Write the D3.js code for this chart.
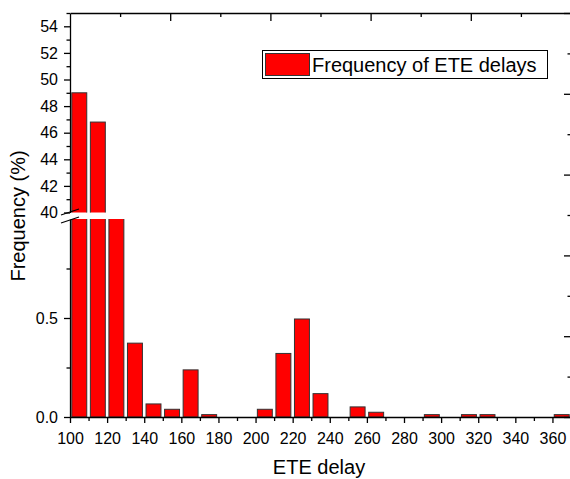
<!DOCTYPE html>
<html>
<head>
<meta charset="utf-8">
<script src="https://cdn.jsdelivr.net/npm/d3@7"></script>
<style>
  body { margin: 0; background: #fff; }
  text { font-family: "Liberation Sans", Arial, sans-serif; }
</style>
</head>
<body>
<div id="chart"></div>
<script>
// histogram bins (left edge, width 10) and frequency (%)
let binStart = [100, 110, 120, 130, 140, 150, 160, 170, 180, 190, 200, 210, 220, 230,
                240, 250, 260, 270, 280, 290, 300, 310, 320, 330, 340, 350, 360];
let freq = [49.0, 46.8, 2.4, 0.373, 0.066, 0.039, 0.238, 0.012, 0, 0, 0.039, 0.321, 0.495, 0.118,
            0, 0.051, 0.024, 0, 0, 0.012, 0, 0.012, 0.012, 0, 0, 0, 0.012];
let binWidth = 10;

// tick labels
let xTicks = [100, 120, 140, 160, 180, 200, 220, 240, 260, 280, 300, 320, 340, 360];
let upperTicks = [40, 42, 44, 46, 48, 50, 52, 54];
let lowerTicks = [0, 0.5];

let width = 570, height = 479;
let plotLeft = 70, plotRight = 571, plotTop = 13, plotBottom = 417;
let breakTop = 212.5, breakBottom = 219;

let svg = d3.select("#chart").append("svg")
    .attr("width", width)
    .attr("height", height);

// scales
let x = d3.scaleLinear().domain([100, 370]).range([plotLeft, plotRight]);
let yU = d3.scaleLinear().domain([40, 55]).range([breakTop, plotTop]);
let yL = d3.scaleLinear().domain([0, 1]).range([plotBottom, breakBottom]);
let frame = d3.scaleLinear().domain([0, 10]); // top/right frame ticks

let data = binStart.map((b, i) => ({ b: b, v: freq[i] })).filter(d => d.v > 0);

let defs = svg.append("defs");
defs.append("clipPath").attr("id", "clipL").append("rect")
    .attr("x", plotLeft).attr("y", breakBottom)
    .attr("width", plotRight - plotLeft).attr("height", plotBottom - breakBottom + 1);
defs.append("clipPath").attr("id", "clipU").append("rect")
    .attr("x", plotLeft).attr("y", plotTop)
    .attr("width", plotRight - plotLeft).attr("height", breakTop - plotTop);

let bw = x(100 + binWidth) - x(100);

// lower segment bars
svg.append("g").attr("clip-path", "url(#clipL)")
  .selectAll("rect").data(data).enter().append("rect")
    .attr("x", d => x(d.b) + 1.8)
    .attr("width", bw - 3.6)
    .attr("y", d => yL(Math.min(d.v, 1.05)))
    .attr("height", d => yL(0) - yL(Math.min(d.v, 1.05)))
    .attr("fill", "#ff0000")
    .attr("stroke", "#333")
    .attr("stroke-width", 1);

// upper segment bars
svg.append("g").attr("clip-path", "url(#clipU)")
  .selectAll("rect").data(data.filter(d => d.v > 40)).enter().append("rect")
    .attr("x", d => x(d.b) + 1.8)
    .attr("width", bw - 3.6)
    .attr("y", d => yU(d.v))
    .attr("height", d => yU(39) - yU(d.v))
    .attr("fill", "#ff0000")
    .attr("stroke", "#333")
    .attr("stroke-width", 1);

function styleAxis(g) {
    g.selectAll("path, line").attr("stroke", "#000").attr("stroke-width", 1.3);
    g.selectAll("text").attr("font-size", 16).attr("fill", "#000")
        .style("font-family", '"Liberation Sans", Arial, sans-serif');
}

// bottom axis
svg.append("g").attr("transform", "translate(0," + plotBottom + ")")
    .call(d3.axisBottom(x).tickValues(xTicks).tickSize(6).tickSizeOuter(0).tickPadding(10))
    .call(styleAxis);
svg.append("g").attr("transform", "translate(0," + plotBottom + ")")
    .call(d3.axisBottom(x).tickValues(xTicks.map(t => t + 10)).tickSize(4).tickFormat(""))
    .call(g => g.select(".domain").remove())
    .call(styleAxis);

// left axis, upper part
svg.append("g").attr("transform", "translate(" + plotLeft + ",0)")
    .call(d3.axisLeft(yU).tickValues(upperTicks).tickSize(6).tickSizeOuter(0).tickPadding(6))
    .call(styleAxis);
svg.append("g").attr("transform", "translate(" + plotLeft + ",0)")
    .call(d3.axisLeft(yU).tickValues(upperTicks.map(t => t + 1)).tickSize(3.5).tickFormat(""))
    .call(g => g.select(".domain").remove())
    .call(styleAxis);

// left axis, lower part
svg.append("g").attr("transform", "translate(" + plotLeft + ",0)")
    .call(d3.axisLeft(yL).tickValues(lowerTicks).tickSize(6).tickSizeOuter(0).tickPadding(6)
        .tickFormat(d3.format(".1f")))
    .call(styleAxis);
svg.append("g").attr("transform", "translate(" + plotLeft + ",0)")
    .call(d3.axisLeft(yL).tickValues([0.25, 0.75]).tickSize(3.5).tickFormat(""))
    .call(g => g.select(".domain").remove())
    .call(styleAxis);

// top frame
let frameT = frame.copy().range([plotLeft, plotRight]);
svg.append("g").attr("transform", "translate(0," + plotTop + ")")
    .call(d3.axisTop(frameT).tickValues([2, 4, 6, 8, 10]).tickSize(-8).tickSizeOuter(0).tickFormat(""))
    .call(styleAxis);
svg.append("g").attr("transform", "translate(0," + plotTop + ")")
    .call(d3.axisTop(frameT).tickValues([1, 3, 5, 7, 9]).tickSize(-4).tickFormat(""))
    .call(g => g.select(".domain").remove())
    .call(styleAxis);

// right frame
let frameR = frame.copy().range([plotBottom, plotTop]);
svg.append("g").attr("transform", "translate(" + plotRight + ",0)")
    .call(d3.axisRight(frameR).tickValues([0, 2, 4, 6, 8, 10]).tickSize(-7).tickSizeOuter(0).tickFormat(""))
    .call(styleAxis);
svg.append("g").attr("transform", "translate(" + plotRight + ",0)")
    .call(d3.axisRight(frameR).tickValues([1, 3, 5, 7, 9]).tickSize(-3.5).tickFormat(""))
    .call(g => g.select(".domain").remove())
    .call(styleAxis);

// axis break marks
svg.append("line").attr("x1", 61).attr("y1", 215).attr("x2", 79).attr("y2", 209)
    .attr("stroke", "#000").attr("stroke-width", 1.3);
svg.append("line").attr("x1", 61).attr("y1", 223).attr("x2", 79).attr("y2", 217)
    .attr("stroke", "#000").attr("stroke-width", 1.3);

// axis titles
svg.append("text")
    .attr("x", 319).attr("y", 474)
    .attr("text-anchor", "middle")
    .attr("font-size", 20)
    .text("ETE delay");
svg.append("text")
    .attr("transform", "translate(25,216) rotate(-90)")
    .attr("text-anchor", "middle")
    .attr("font-size", 20)
    .text("Frequency (%)");

// legend
let legend = svg.append("g");
legend.append("rect")
    .attr("x", 262.5).attr("y", 50.5).attr("width", 285).attr("height", 28)
    .attr("fill", "#fff").attr("stroke", "#000").attr("stroke-width", 1);
legend.append("rect")
    .attr("x", 265.5).attr("y", 53.5).attr("width", 44).attr("height", 22)
    .attr("fill", "#ff0000").attr("stroke", "#333").attr("stroke-width", 1);
legend.append("text")
    .attr("x", 312).attr("y", 71.5)
    .attr("font-size", 20)
    .text("Frequency of ETE delays");
</script>
</body>
</html>
